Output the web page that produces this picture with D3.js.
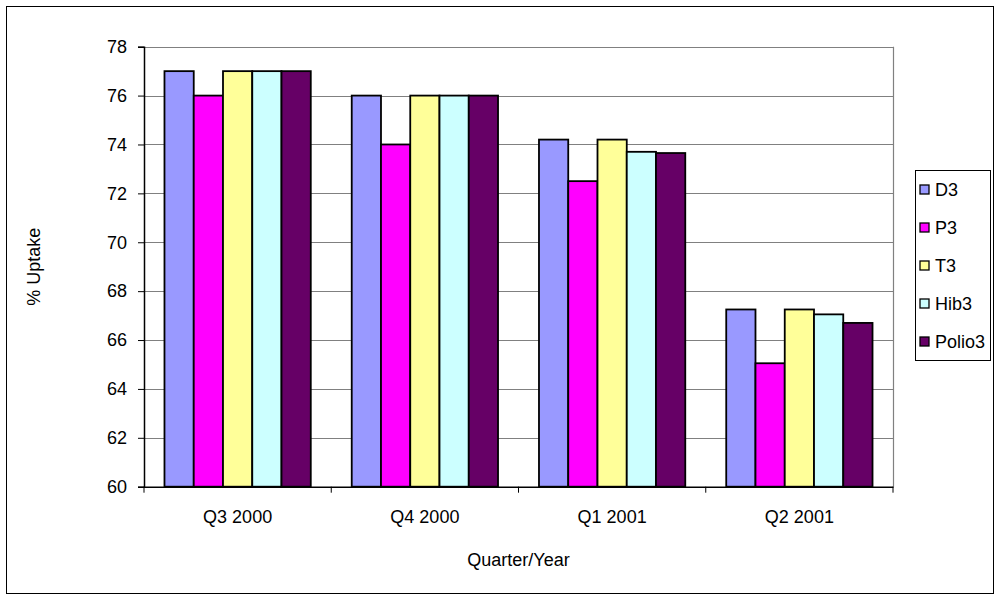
<!DOCTYPE html>
<html>
<head>
<meta charset="utf-8">
<script src="https://cdn.jsdelivr.net/npm/d3@7"></script>
<style>
  html, body { margin: 0; padding: 0; background: #fff; }
  svg { display: block; font-family: Arial, "Liberation Sans", sans-serif; }
</style>
</head>
<body>
<svg id="chart" width="1000" height="600"></svg>
<script>
const categories = ["Q3 2000", "Q4 2000", "Q1 2001", "Q2 2001"];
const seriesNames = ["D3", "P3", "T3", "Hib3", "Polio3"];
const D3v = [77, 76, 74.2, 67.25];
const P3v = [76, 74, 72.5, 65.05];
const T3v = [77, 76, 74.2, 67.25];
const Hib3v = [77, 76, 73.7, 67.05];
const Polio3v = [77, 76, 73.65, 66.7];
const yTicks = [60, 62, 64, 66, 68, 70, 72, 74, 76, 78];
const colors = ["#9999FF", "#FF00FF", "#FFFF99", "#CCFFFF", "#660066"];

const seriesValues = [D3v, P3v, T3v, Hib3v, Polio3v];
const data = categories.map((c, i) => ({
  cat: c,
  vals: seriesNames.map((s, j) => ({ key: s, value: seriesValues[j][i], color: colors[j] }))
}));

const svg = d3.select("#chart");
const fontSize = 18;
const FONT = "Arial, 'Liberation Sans', sans-serif";

// outer frame
svg.append("rect").attr("x", 6.5).attr("y", 6.5).attr("width", 987).attr("height", 587)
  .attr("fill", "#fff").attr("stroke", "#000").attr("stroke-width", 1);

const plot = { left: 144, right: 893, top: 46.7, bottom: 486.7 };

const x0 = d3.scaleBand().domain(categories).range([plot.left, plot.right]).paddingInner(0).paddingOuter(0);
const x1 = d3.scaleBand().domain(seriesNames).range([0, x0.bandwidth()]).paddingOuter(0.7).paddingInner(0);
const y = d3.scaleLinear().domain([60, 78]).range([plot.bottom, plot.top]);

// gridlines
svg.append("g").selectAll("line").data(yTicks.filter(t => t > 60)).join("line")
  .attr("x1", plot.left).attr("x2", plot.right)
  .attr("y1", d => Math.round(y(d)) + 0.5).attr("y2", d => Math.round(y(d)) + 0.5)
  .attr("stroke", "#808080").attr("stroke-width", 1.2);
// right border of plot
svg.append("line").attr("x1", plot.right + 0.5).attr("x2", plot.right + 0.5)
  .attr("y1", plot.top).attr("y2", plot.bottom).attr("stroke", "#808080").attr("stroke-width", 1.2);

// bars
const groups = svg.append("g").selectAll("g").data(data).join("g")
  .attr("transform", d => `translate(${x0(d.cat)},0)`);
groups.selectAll("rect").data(d => d.vals).join("rect")
  .attr("x", d => x1(d.key))
  .attr("y", d => y(d.value))
  .attr("width", x1.bandwidth())
  .attr("height", d => y(60) - y(d.value))
  .attr("fill", d => d.color)
  .attr("stroke", "#000").attr("stroke-width", 1.8);

// y axis
const yAxis = d3.axisLeft(y).tickValues(yTicks).tickSize(6).tickPadding(11).tickFormat(d3.format("d"));
const gy = svg.append("g").attr("transform", `translate(${plot.left},0)`).call(yAxis);
gy.select(".domain").attr("stroke", "#000").attr("stroke-width", 1.5);
gy.selectAll(".tick line").attr("stroke", "#000");
gy.selectAll("text").attr("font-size", fontSize).attr("fill", "#000").attr("font-family", FONT);

// x axis
const xAxis = d3.axisBottom(x0).tickSize(0).tickPadding(24);
const gx = svg.append("g").attr("transform", `translate(0,${plot.bottom})`).call(xAxis);
gx.select(".domain").attr("stroke", "#000").attr("stroke-width", 1.5);
gx.selectAll("text").attr("font-size", fontSize).attr("fill", "#000").attr("font-family", FONT);
// category boundary ticks
const bounds = categories.map(c => x0(c)).concat([x0(categories[categories.length - 1]) + x0.bandwidth()]);
gx.selectAll(".btick").data(bounds).join("line").attr("class", "btick")
  .attr("x1", d => d).attr("x2", d => d).attr("y1", 0).attr("y2", 6)
  .attr("stroke", "#000");

// axis titles
svg.append("text").attr("x", (plot.left + plot.right) / 2 + 0).attr("y", 566)
  .attr("text-anchor", "middle").attr("font-size", fontSize).attr("font-family", FONT).text("Quarter/Year");
svg.append("text").attr("transform", `translate(40,${(plot.top + plot.bottom) / 2}) rotate(-90)`)
  .attr("text-anchor", "middle").attr("font-size", fontSize).attr("font-family", FONT).text("% Uptake");

// legend
const lg = svg.append("g");
lg.append("rect").attr("x", 915.5).attr("y", 170.5).attr("width", 75).attr("height", 190)
  .attr("fill", "#fff").attr("stroke", "#000");
const items = lg.selectAll("g.item").data(seriesNames).join("g").attr("class", "item")
  .attr("transform", (d, i) => `translate(920,${190 + i * 38})`);
items.append("rect").attr("x", 0).attr("y", -5).attr("width", 9).attr("height", 9)
  .attr("fill", (d, i) => colors[i]).attr("stroke", "#000").attr("stroke-width", 1.3);
items.append("text").attr("x", 15).attr("y", 0).attr("dy", "0.35em")
  .attr("font-size", fontSize).attr("font-family", FONT).text(d => d);
</script>
</body>
</html>
